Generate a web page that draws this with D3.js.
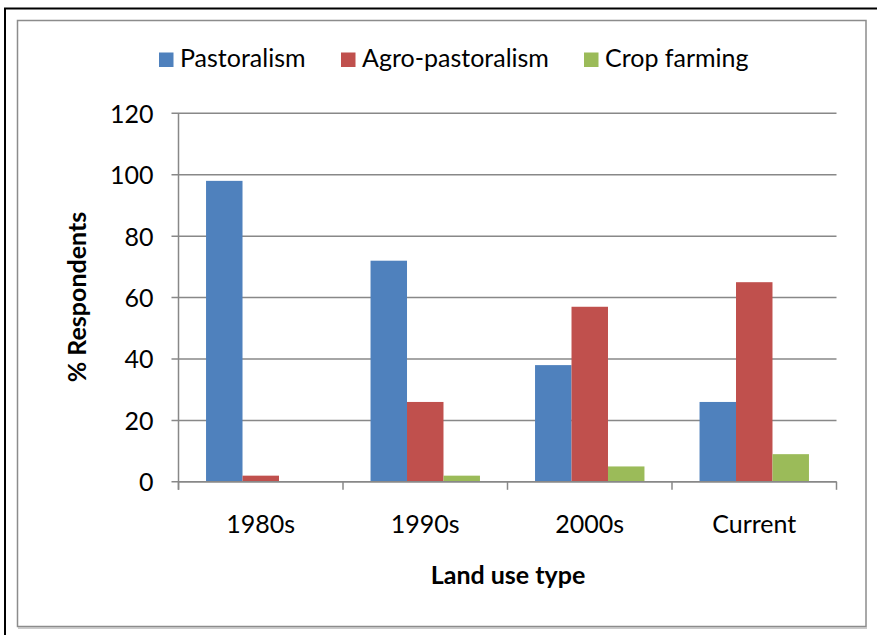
<!DOCTYPE html>
<html><head><meta charset="utf-8">
<script src="https://cdn.jsdelivr.net/npm/d3@7"></script>
<style>body{margin:0;background:#fff}svg{display:block}</style>
</head><body>
<script>
const categories = ["1980s", "1990s", "2000s", "Current"];
const seriesNames = ["Pastoralism", "Agro-pastoralism", "Crop farming"];
const pastoralism = [98, 72, 38, 26];
const agroPastoralism = [2, 26, 57, 65];
const cropFarming = [0, 2, 5, 9];
const yTicks = [0, 20, 40, 60, 80, 100, 120];
const colors = ["#4F81BD", "#C0504D", "#9BBB59"];
const seriesValues = [pastoralism, agroPastoralism, cropFarming];

const W = 877, H = 635;
const font = "Lato, 'Open Sans', sans-serif";
const fs = 25;
const svg = d3.select("body").append("svg").attr("width", W).attr("height", H);

// frames
svg.append("path").attr("d", `M5,${H} L5,8.5 L${W},8.5`).attr("fill","none").attr("stroke","#000").attr("stroke-width",2);
svg.append("rect").attr("x",17.5).attr("y",20.5).attr("width",848.5).attr("height",606)
  .attr("fill","#fff").attr("stroke","#8c8c8c").attr("stroke-width",1.5);
svg.append("line").attr("x1",18).attr("x2",867).attr("y1",628).attr("y2",628).attr("stroke","#bbb").attr("stroke-width",1.5);

const m = {l:178.5, r:836.5, t:113.3, b:481.8};
const x = d3.scaleBand().domain(categories).range([m.l, m.r]).paddingInner(0).paddingOuter(0);
const x1 = d3.scaleBand().domain(seriesNames).range([0, x.bandwidth()]).paddingInner(0).paddingOuter(0.755);
const y = d3.scaleLinear().domain([0,120]).range([m.b, m.t]);

// gridlines
svg.append("g").selectAll("line").data(yTicks).join("line")
  .attr("x1", m.l-7).attr("x2", m.r).attr("y1", d=>y(d)).attr("y2", d=>y(d))
  .attr("stroke","#888").attr("stroke-width",1.5);

// bars
const g = svg.append("g");
seriesNames.forEach((s,si)=>{
  g.selectAll(null).data(categories).join("rect")
    .attr("x", c=>x(c)+x1(s)).attr("width", x1.bandwidth())
    .attr("y", (c,i)=>y(seriesValues[si][i])).attr("height",(c,i)=>y(0)-y(seriesValues[si][i]))
    .attr("fill", colors[si]);
});

// y axis
const yAxis = d3.axisLeft(y).tickValues(yTicks).tickSize(0).tickPadding(25);
const ya = svg.append("g").attr("transform",`translate(${m.l},0)`).call(yAxis);
ya.select(".domain").remove();
ya.selectAll("text").attr("font-family",font).attr("font-size",fs).attr("fill","#000").attr("dy","0.36em");
svg.append("line").attr("x1",m.l).attr("x2",m.l).attr("y1",m.t).attr("y2",m.b+8).attr("stroke","#888").attr("stroke-width",1.5);

// x axis
const xa = svg.append("g").attr("transform",`translate(0,${m.b})`)
  .call(d3.axisBottom(x).tickSize(0).tickPadding(0));
xa.select(".domain").remove();
xa.selectAll("text").attr("font-family",font).attr("font-size",fs).attr("fill","#000").attr("y",51).attr("dy",0);
svg.append("g").selectAll("line").data(d3.range(categories.length+1)).join("line")
  .attr("x1", i=>m.l+i*x.bandwidth()).attr("x2", i=>m.l+i*x.bandwidth())
  .attr("y1", m.b).attr("y2", m.b+8).attr("stroke","#888").attr("stroke-width",1.5);
svg.append("line").attr("x1",m.l).attr("x2",m.r).attr("y1",m.b).attr("y2",m.b).attr("stroke","#888").attr("stroke-width",1.5);

// titles
svg.append("text").attr("x",508).attr("y",584).attr("text-anchor","middle")
  .attr("font-family",font).attr("font-weight","bold").attr("font-size",fs).text("Land use type");
svg.append("text").attr("transform","translate(86,297) rotate(-90)").attr("text-anchor","middle")
  .attr("font-family",font).attr("font-weight","bold").attr("font-size",fs).text("% Respondents");

// legend
const legX = [159, 341, 584];
const lg = svg.append("g");
seriesNames.forEach((s,i)=>{
  lg.append("rect").attr("x",legX[i]).attr("y",52.5).attr("width",14.5).attr("height",14.5).attr("fill",colors[i]);
  lg.append("text").attr("x",legX[i]+21).attr("y",67).attr("font-family",font).attr("font-size",fs).text(s);
});
</script>
</body></html>
